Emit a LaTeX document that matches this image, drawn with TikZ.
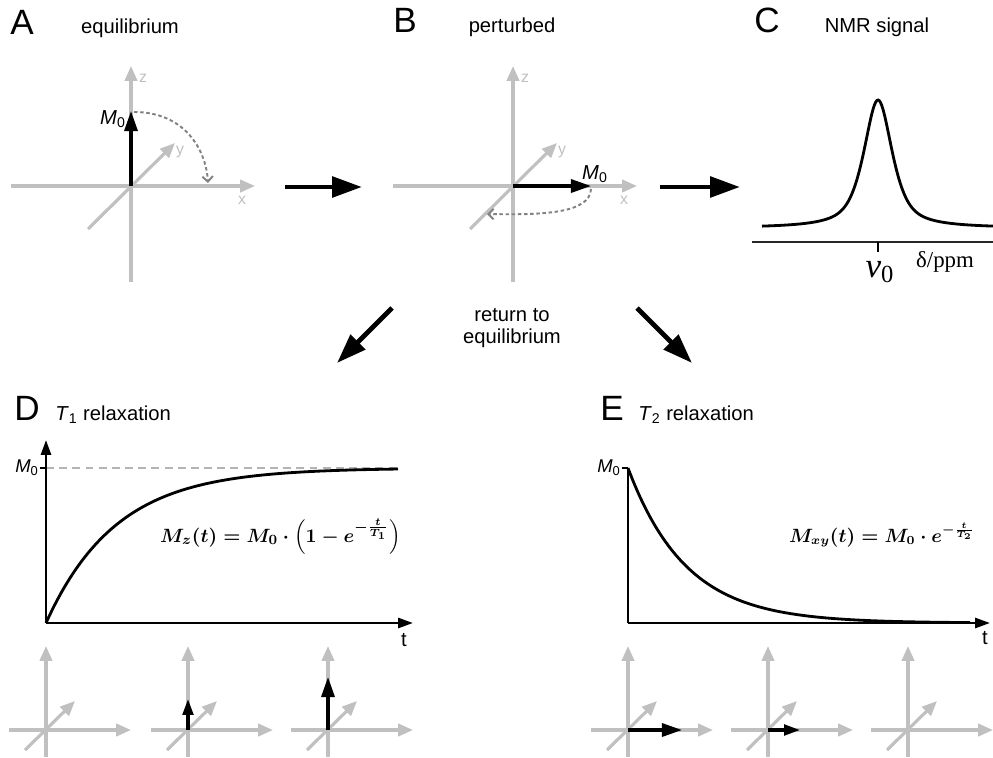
\documentclass[tikz,border=0pt]{standalone}
\usepackage{amsmath}
\usepackage{fontspec}
\setmainfont{Liberation Sans}
\newfontfamily\serifface{Liberation Serif}
\usepackage{xcolor}
\usepackage{tikz}
\usetikzlibrary{arrows.meta}
\definecolor{axgray}{RGB}{192,192,192}
\definecolor{dashgray}{RGB}{130,130,130}
\definecolor{refgray}{RGB}{180,180,180}

\begin{document}
\begin{tikzpicture}[x=0.02cm, y=-0.02cm,
        every node/.style={font=\fontsize{11.5}{13}\selectfont, inner sep=0pt},
        ax/.style={draw=axgray, line width=1.8pt, -{Triangle[length=8.5pt, width=7pt]}},
        axlbl/.style={text=axgray, font=\fontsize{9}{11}\selectfont},
        panel/.style={font=\fontsize{20}{24}\selectfont, anchor=base},
        ttl/.style={anchor=base},
        mvec/.style={line width=1.8pt, -{Triangle[length=11.5pt, width=7.5pt]}},
        svec/.style={line width=1.8pt, -{Triangle[length=9pt, width=6pt]}},
        bigarr/.style={line width=2.8pt, -{Triangle[length=17pt, width=11.5pt]}},
        swing/.style={draw=dashgray, line width=1.1pt, dash pattern=on 2pt off 1.5pt,
          -{Straight Barb[length=3pt, width=6pt]}},
        plotax/.style={line width=1.5pt, -{Triangle[length=8.5pt, width=5.7pt]}},
        curve/.style={line width=1.6pt},
        formula/.style={anchor=base east},
        bigframe/.pic={
          \draw[ax] (-120,0) -- (124,0);
          \draw[ax] (0,96) -- (0,-120);
          \draw[ax] (-43,43) -- (44,-43);
          \node[axlbl] (-z) at (12,-108) {z};
          \node[axlbl] (-y) at (49,-34) {y};
          \node[axlbl] (-x) at (111,14) {x};
        },
        smallframe/.pic={
          \draw[ax] (-37,0) -- (85,0);
          \draw[ax] (0,27) -- (0,-84);
          \draw[ax] (-21,20) -- (29,-29);
        }]
      \useasboundingbox (0,0) rectangle (993,757);

      % A: equilibrium
      \node[panel] (labA) at (22,35) {A};
      \node[ttl] (ttlA) at (130,34) {equilibrium};
      \coordinate (oA) at (131,186);
      \pic (fa) at (oA) {bigframe};
      \coordinate (tipA) at (131,111);
      \draw[mvec] (oA) -- (tipA);
      \node (mA) at (113,119) {\textit{M}\textsubscript{0}};
      \coordinate (swA) at (208,183);
      \draw[swing] (134,112) .. controls (185,112) and (206,150) .. (swA);

      % B: perturbed
      \node[panel] (labB) at (405,33) {B};
      \node[ttl] (ttlB) at (512,33) {perturbed};
      \coordinate (oB) at (513,186);
      \pic (fb) at (oB) {bigframe};
      \coordinate (tipB) at (591,186);
      \draw[mvec] (oB) -- (tipB);
      \node (mB) at (595,174) {\textit{M}\textsubscript{0}};
      \coordinate (swB) at (487,214);
      \draw[swing] (591,189) .. controls (590,214) and (540,215) .. (swB);

      % C: NMR signal
      \node[panel] (labC) at (767,33) {C};
      \node[ttl] (ttlC) at (877,33) {NMR signal};
      \draw[curve] plot[domain=-116:115, samples=200]
        ({878+\x},{228-128*(0.7/(1+(\x/17)^2)+0.3*exp(-0.693*(\x/17)^2))});
      \draw[line width=0.9pt, black!85] (752,242) -- (993,242);
      \draw[line width=0.7pt] (878,242) -- (878,252);
      \node (nu) at (880,272) {\serifface\fontsize{20}{22}\selectfont\textit{v}\textsubscript{0}};
      \node (ppm) at (945,262) {\serifface\fontsize{13}{15}\selectfont δ/ppm};

      % arrows between panels
      \coordinate (ab1) at (285,187);
      \coordinate (ab2) at (362,187);
      \coordinate (bc1) at (660,187);
      \coordinate (bc2) at (740,187);
      \draw[bigarr] (ab1) -- (ab2);
      \draw[bigarr] (bc1) -- (bc2);
      \coordinate (bd1) at (392,308);
      \coordinate (bd2) at (337,363);
      \coordinate (be1) at (637,308);
      \coordinate (be2) at (692,363);
      \draw[bigarr] (bd1) -- (bd2);
      \draw[bigarr] (be1) -- (be2);
      \node[ttl] (ret1) at (512,321) {return to};
      \node[ttl] (ret2) at (512,343) {equilibrium};

      % D: T1 relaxation
      \node[panel] (labD) at (27,420) {D};
      \node[ttl, anchor=base west] (ttlD) at (55,420) {\textit{T}\textsubscript{1} relaxation};
      \coordinate (oD) at (46,623);
      \coordinate (yD) at (46,440);
      \coordinate (xD) at (413,623);
      \draw[refgray, line width=1.2pt, dash pattern=on 4.5pt off 3pt] (46,468) -- (398,468);
      \draw[plotax] (oD) -- (yD);
      \draw[plotax] (oD) -- (xD);
      \draw[line width=1.2pt] (40,468) -- (46,468);
      \node (m0D) at (27,468) {\fontsize{10.5}{12}\selectfont\textit{M}\textsubscript{0}};
      \node (tD) at (404,640) {t};
      \draw[curve] plot[domain=0:352, samples=120] ({46+\x},{623-155*(1-exp(-\x/70))});
      \node[formula, font=\fontsize{11.3}{13}\selectfont\boldmath] (eqD) at (401,542)
        {$M_z(t) = M_0\cdot\left(1-e^{-\frac{t}{T_1}}\right)$};

      % E: T2 relaxation
      \node[panel] (labE) at (612,420) {E};
      \node[ttl, anchor=base west] (ttlE) at (638,420) {\textit{T}\textsubscript{2} relaxation};
      \coordinate (oE) at (628,623);
      \coordinate (yE) at (628,468);
      \coordinate (xE) at (990,623);
      \draw[line width=1.5pt] (oE) -- (yE);
      \draw[plotax] (oE) -- (xE);
      \draw[line width=1.2pt] (622,468) -- (628,468);
      \node (m0E) at (609,468) {\fontsize{10.5}{12}\selectfont\textit{M}\textsubscript{0}};
      \node (tE) at (985,638) {t};
      \draw[curve] plot[domain=0:342, samples=120] ({628+\x},{623-155*exp(-\x/58)});
      \node[formula, font=\fontsize{10.6}{13}\selectfont\boldmath] (eqE) at (975,542)
        {$M_{xy}(t) = M_0\cdot e^{-\frac{t}{T_2}}$};

      % small frames
      \foreach \px/\nm in {46/d1, 188/d2, 328/d3, 628/e1, 768/e2, 908/e3}
        \pic (\nm) at (\px,730) {smallframe};
      \draw[svec] (188,730) -- (188,699);
      \draw[mvec] (328,730) -- (328,677);
      \draw[mvec] (628,730) -- (682,730);
      \draw[svec] (768,730) -- (800,730);
    \end{tikzpicture}
\end{document}
